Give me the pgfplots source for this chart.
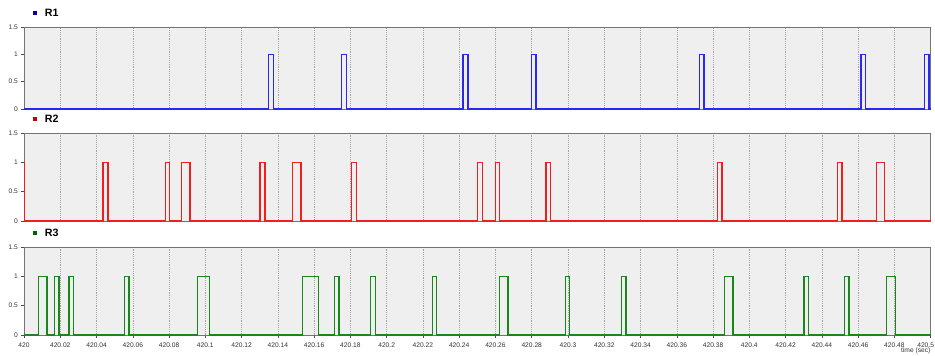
\documentclass[border=0pt]{standalone}
\usepackage{pgfplots}
\pgfplotsset{compat=1.18}
\usepackage{fontspec}
\setmainfont{Liberation Sans}
\definecolor{bgc}{RGB}{239,239,239}
\definecolor{cB}{RGB}{40,40,245}
\definecolor{cR}{RGB}{240,30,30}
\definecolor{cG}{RGB}{25,135,25}
\definecolor{sB}{RGB}{0,0,150}
\definecolor{sR}{RGB}{200,0,0}
\definecolor{sG}{RGB}{0,100,0}
\pgfplotsset{panel/.style={
  scale only axis, width=680pt, anchor=north west,
  xmin=0, xmax=500, ymin=0, ymax=1.5,
  axis background/.style={fill=bgc},
  xtick={0,20,...,500}, xmajorgrids,
  major grid style={densely dotted, black!35, line width=0.4pt},
  ytick={0,0.5,1,1.5}, yticklabels={0,0.5,1,1.5},
  ytick pos=left, xtick pos=bottom,
  tick label style={font=\fontsize{5}{6}\selectfont, text=black!80},
  yticklabel style={xshift=1pt},
  axis line style={black!55, line width=0.6pt},
  tick style={black!70, line width=0.4pt},
  major tick length=2pt, tick align=outside,
  clip=false,
  every axis plot/.append style={line width=1pt, line join=miter},
}}
\newcommand{\ptitle}[2]{%
  \node[fill=#1, minimum size=3.2pt, inner sep=0pt] at ([xshift=8pt,yshift=10.5pt]rel axis cs:0,1) {};
  \node[anchor=west, font=\bfseries\fontsize{8}{9}\selectfont, inner sep=0pt] at ([xshift=15.5pt,yshift=10.5pt]rel axis cs:0,1) {#2};}
\begin{document}
\begin{tikzpicture}
\useasboundingbox (-18pt,20.25pt) rectangle (683.25pt,-246.75pt);
% R1
\begin{axis}[panel, height=61.5pt, at={(0pt,0pt)}, xticklabels={}, xtick style={draw=none}]
\addplot[cB] coordinates {(0,0)
(135.0,0)(135.0,1)(137.7,1)(137.7,0)
(175.2,0)(175.2,1)(178.0,1)(178.0,0)
(242.1,0)(242.1,1)(244.8,1)(244.8,0)
(279.8,0)(279.8,1)(282.3,1)(282.3,0)
(372.4,0)(372.4,1)(375.0,1)(375.0,0)
(461.6,0)(461.6,1)(464.2,1)(464.2,0)
(496.7,0)(496.7,1)(499.1,1)(499.1,0)(500,0)};
\ptitle{sB}{R1}
\end{axis}
% R2
\begin{axis}[panel, height=66pt, at={(0pt,-79.5pt)}, xticklabels={}, xtick style={draw=none}]
\addplot[cR] coordinates {(0,1)(0.4,1)(0.4,0)
(43.6,0)(43.6,1)(46.3,1)(46.3,0)
(78.0,0)(78.0,1)(80.3,1)(80.3,0)
(87.0,0)(87.0,1)(91.5,1)(91.5,0)
(130.1,0)(130.1,1)(132.9,1)(132.9,0)
(148.2,0)(148.2,1)(152.7,1)(152.7,0)
(180.7,0)(180.7,1)(183.3,1)(183.3,0)
(250.0,0)(250.0,1)(252.8,1)(252.8,0)
(259.9,0)(259.9,1)(262.3,1)(262.3,0)
(287.8,0)(287.8,1)(290.4,1)(290.4,0)
(382.3,0)(382.3,1)(384.9,1)(384.9,0)
(448.5,0)(448.5,1)(451.1,1)(451.1,0)
(470.2,0)(470.2,1)(474.6,1)(474.6,0)(500,0)};
\ptitle{sR}{R2}
\end{axis}
% R3
\begin{axis}[panel, height=66pt, at={(0pt,-165pt)},
  xticklabels={420,420.02,420.04,420.06,420.08,420.1,420.12,420.14,420.16,420.18,420.2,420.22,420.24,420.26,420.28,420.3,420.32,420.34,420.36,420.38,420.4,420.42,420.44,420.46,420.48,{\makebox[5pt][r]{420.5}}}]
\addplot[cG] coordinates {(0,0)
(8.1,0)(8.1,1)(12.7,1)(12.7,0)
(16.8,0)(16.8,1)(19.3,1)(19.3,0)
(24.8,0)(24.8,1)(27.4,1)(27.4,0)
(55.4,0)(55.4,1)(57.9,1)(57.9,0)
(95.6,0)(95.6,1)(102.4,1)(102.4,0)
(153.7,0)(153.7,1)(162.5,1)(162.5,0)
(171.2,0)(171.2,1)(173.7,1)(173.7,0)
(191.2,0)(191.2,1)(193.8,1)(193.8,0)
(225.2,0)(225.2,1)(227.6,1)(227.6,0)
(262.1,0)(262.1,1)(266.9,1)(266.9,0)
(298.5,0)(298.5,1)(300.9,1)(300.9,0)
(329.4,0)(329.4,1)(332.0,1)(332.0,0)
(386.2,0)(386.2,1)(391.0,1)(391.0,0)
(430.1,0)(430.1,1)(432.7,1)(432.7,0)
(452.4,0)(452.4,1)(454.9,1)(454.9,0)
(475.7,0)(475.7,1)(480.5,1)(480.5,0)(500,0)};
\ptitle{sG}{R3}
\node[anchor=north east, font=\fontsize{5}{6}\selectfont, text=black!80, inner sep=0pt] at ([yshift=-9.5pt]rel axis cs:1,0) {time (sec)};
\end{axis}
\end{tikzpicture}
\end{document}
